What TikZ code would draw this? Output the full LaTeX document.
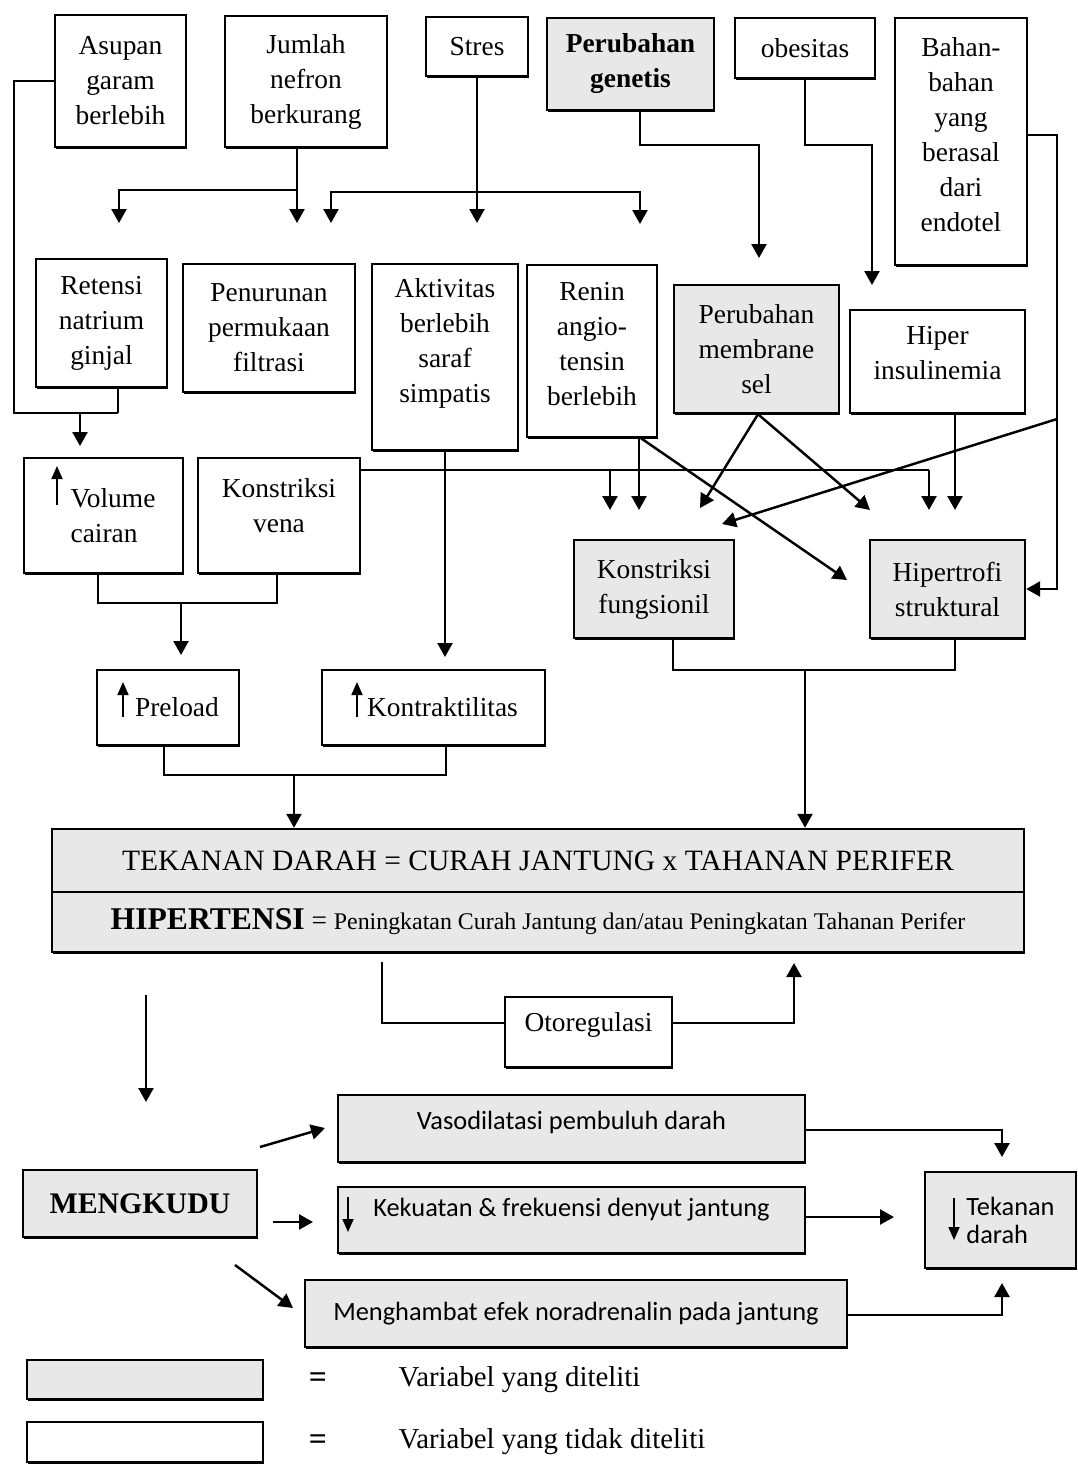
\documentclass[tikz,border=0pt]{standalone}
\usepackage{fontspec}
\setmainfont{Liberation Serif}
\newfontfamily\calibri{Carlito}
\usetikzlibrary{arrows.meta,shadows}

\tikzset{
  kotak/.style={draw, line width=0.7pt, inner sep=0pt, align=center, font=\fontsize{7.8}{9.96}\selectfont,
    drop shadow={shadow xshift=0.12mm, shadow yshift=-0.2mm, fill=black, opacity=1}},
  teliti/.style={kotak, fill=black!9},
  tidak/.style={kotak, fill=white},
  ukuran/.style 2 args={minimum width=#1mm, minimum height=#2mm},
  sans/.style={font=\calibri\fontsize{7.5}{8}\selectfont},
  garis/.style={line width=0.7pt},
  panah/.style={garis, -{Triangle[length=1.4mm,width=1.5mm]}},
  glyph/.style={line width=0.5pt, -{Triangle[length=1.3mm,width=1.1mm]}},
}

\begin{document}
\begin{tikzpicture}[x=0.1mm,y=-0.1mm]
    \useasboundingbox (0,0) rectangle (1078,1464);
    \node[tidak, ukuran={13.1}{13.2}] (asupan) at (120.5,81) {Asupan\\garam\\berlebih};
    \node[tidak, ukuran={16.2}{13.1}] (jumlah) at (306,81.5) {Jumlah\\nefron\\berkurang};
    \node[tidak, ukuran={10.2}{5.9}] (stres) at (477,46.5) {Stres};
    \node[teliti, ukuran={16.7}{9.2}] (genetis) at (630.5,64) {\textbf{Perubahan}\\\textbf{genetis}};
    \node[tidak, ukuran={14}{6}] (obesitas) at (805,48) {obesitas};
    \node[tidak, ukuran={13.2}{24.7}, text depth=1.4mm] (bahan) at (961,141.5) {Bahan-\\bahan\\yang\\berasal\\dari\\endotel};
    \node[tidak, ukuran={13.1}{12.8}] (retensi) at (101.5,323) {Retensi\\natrium\\ginjal};
    \node[tidak, ukuran={17.2}{12.8}] (penurunan) at (269,328) {Penurunan\\permukaan\\filtrasi};
    \node[tidak, ukuran={14.6}{18.6}, text depth=3.3mm] (aktivitas) at (445,357) {Aktivitas\\berlebih\\saraf\\simpatis};
    \node[tidak, ukuran={13}{17.2}, text depth=1.5mm] (renin) at (592,351) {Renin\\angio-\\tensin\\berlebih};
    \node[teliti, ukuran={16.5}{12.8}] (membrane) at (756.5,349) {Perubahan\\membrane\\sel};
    \node[tidak, ukuran={17.5}{10.3}, text depth=1.8mm] (hiper) at (937.5,361.5) {Hiper\\insulinemia};
    \node[tidak, ukuran={15.9}{11.5}, align=left] (volume) at (103.5,515.5) {\hspace*{1.9mm}Volume\\\hspace*{1.9mm}cairan};
    \node[tidak, ukuran={16.2}{11.5}, text depth=2mm] (kvena) at (279,515.5) {Konstriksi\\vena};
    \node[tidak, ukuran={14.2}{7.5}] (preload) at (168,707.5) {\hspace*{1.8mm}Preload};
    \node[tidak, ukuran={22.3}{7.5}] (kontrak) at (433.5,707.5) {\hspace*{1.8mm}Kontraktilitas};
    \node[teliti, ukuran={16}{9.8}] (kfung) at (654,589) {Konstriksi\\fungsionil};
    \node[teliti, ukuran={15.5}{9.8}] (hipertrofi) at (947.5,589) {Hipertrofi\\struktural};
    \node[teliti, ukuran={97.2}{6.3}, font=\fontsize{8.4}{10}\selectfont] (td) at (538,860.5) {TEKANAN DARAH = CURAH JANTUNG x TAHANAN PERIFER};
    \node[teliti, ukuran={97.2}{6}] (ht) at (538,922) {{\fontsize{9}{10}\selectfont\textbf{HIPERTENSI}} = {\fontsize{6.8}{8}\selectfont Peningkatan Curah Jantung dan/atau Peningkatan Tahanan Perifer}};
    \node[tidak, ukuran={16.7}{7}, text depth=2mm] (otoreg) at (588.5,1032) {Otoregulasi};
    \node[teliti, ukuran={23.4}{6.7}, font=\fontsize{8.5}{10}\selectfont\bfseries] (mengkudu) at (140,1203.5) {MENGKUDU};
    \node[teliti, sans, ukuran={46.7}{6.7}, text depth=1.6mm] (vaso) at (571.5,1128.5) {Vasodilatasi pembuluh darah};
    \node[teliti, sans, ukuran={46.7}{6.6}, text depth=2.5mm] (kekuatan) at (571.5,1220) {Kekuatan \& frekuensi denyut jantung};
    \node[teliti, sans, ukuran={54.2}{6.7}] (hambat) at (576,1313.5) {Menghambat efek noradrenalin pada jantung};
    \node[teliti, sans, ukuran={15.1}{9.6}, align=left] (tekanan) at (1000.5,1220) {\hspace*{2mm}Tekanan\\\hspace*{2mm}darah};
    \node[teliti, ukuran={23.6}{3.9}] (leg1) at (145,1379.5) {};
    \node[tidak, ukuran={23.6}{4}] (leg2) at (145,1442) {};
    \node[font=\fontsize{9}{10}\selectfont] (eq1) at (318,1380) {\textbf{=}};
    \node[font=\fontsize{9}{10}\selectfont] (eq2) at (318,1442) {\textbf{=}};
    \node[anchor=west, inner sep=0pt, font=\fontsize{8.2}{10}\selectfont] (ket1) at (398,1380) {Variabel yang diteliti};
    \node[anchor=west, inner sep=0pt, font=\fontsize{8.2}{10}\selectfont] (ket2) at (398,1442) {Variabel yang tidak diteliti};

    \draw[glyph] (57,505) -- (57,466);
    \draw[glyph] (123,717) -- (123,682);
    \draw[glyph] (357,717) -- (357,682);
    \draw[glyph] (348,1197) -- (348,1232);
    \draw[glyph] (954,1198) -- (954,1240);

    \draw[garis] (asupan.west) -| (14,413) -- (118,413);
    \draw[garis] (118,0 |- retensi.south) -- (118,413);
    \draw[panah] (80,413) -- (80,446);
    \draw[panah] (297,0 |- jumlah.south) -- (297,223);
    \draw[panah] (297,190) -| (119,223);
    \draw[panah] (stres.south) -- (stres.south |- 0,223);
    \draw[panah] (stres.south |- 0,192) -| (331,223);
    \draw[panah] (stres.south |- 0,192) -| (640,224);
    \draw[panah] (640,0 |- genetis.south) |- (759,145) -- (759,258);
    \draw[panah] (obesitas.south) |- (872,145) -- (872,285);
    \draw[panah] (bahan.east |- 0,135) -| (1057,589) -- (hipertrofi.east);
    \draw[panah] (1057,419) -- (722,524);
    \draw[panah] (aktivitas.south) -- (aktivitas.south |- 0,657);
    \draw[garis] (kvena.east |- 0,470) -- (929,470);
    \foreach \x in {610,929} \draw[panah] (\x,470) -- (\x,510);
    \draw[panah] (639,0 |- renin.south) -- (639,510);
    \draw[panah] (641,0 |- renin.south) -- (847,580);
    \draw[panah] (758,0 |- membrane.south) -- (700,508);
    \draw[panah] (758,0 |- membrane.south) -- (870,510);
    \draw[panah] (955,0 |- hiper.south) -- (955,510);
    \draw[garis] (98,0 |- volume.south) |- (277,603) -- (277,0 |- kvena.south);
    \draw[panah] (181,603) -- (181,655);
    \draw[garis] (164,0 |- preload.south) |- (446,775) -- (446,0 |- kontrak.south);
    \draw[panah] (294,775) -- (294,0 |- td.north);
    \draw[garis] (673,0 |- kfung.south) |- (955,670) -- (955,0 |- hipertrofi.south);
    \draw[panah] (805,670) -- (805,0 |- td.north);
    \draw[garis] (382,962) |- (otoreg.west |- 0,1023);
    \draw[panah] (otoreg.east |- 0,1023) -| (794,963);
    \draw[panah] (146,995) -- (146,1102);
    \draw[panah] (260,1147) -- (325,1128);
    \draw[panah] (273,1222) -- (313,1222);
    \draw[panah] (235,1265) -- (293,1308);
    \draw[panah] (vaso.east |- 0,1130) -| (1002,1157);
    \draw[panah] (kekuatan.east |- 0,1217) -- (894,1217);
    \draw[panah] (hambat.east |- 0,1315) -| (1002,1283);
\end{tikzpicture}
\end{document}
